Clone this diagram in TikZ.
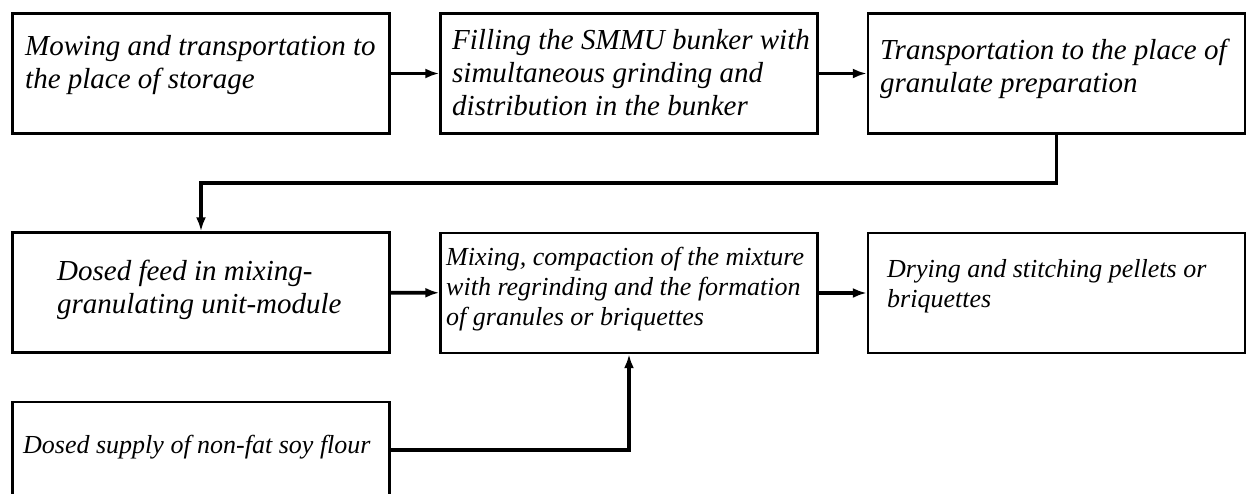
\documentclass[tikz,border=0pt]{standalone}
\usepackage{fontspec}
\setmainfont{Liberation Serif}
\usetikzlibrary{arrows.meta,calc}

\tikzset{
  stage/.style={draw, line width=2.4pt, minimum width=377pt, minimum height=120pt, inner sep=0pt},
  stagetext/.style={anchor=base west, align=left, inner sep=0pt, font=\itshape\fontsize{29}{33}\selectfont},
  smalltext/.style={stagetext, font=\itshape\fontsize{26}{30}\selectfont},
  flow/.style={->, line width=3.6pt},
}

\begin{document}
\begin{tikzpicture}[x=1pt,y=-1pt,>={Latex[length=14pt,width=10pt]}]
      \useasboundingbox (0,0) rectangle (1248,493);
      % Row 1
      \node[stage] (mow) at (201,73.5) {};
      \node[stage] (fill) at (629,73.5) {};
      \node[stage] (trans) at (1056.5,73.5) {};
      \node[stagetext] (mowtext) at (25,88) {Mowing and transportation to\\the place of storage};
      \node[stagetext] (filltext) at (452,115) {Filling the SMMU bunker with\\simultaneous grinding and\\distribution in the bunker};
      \node[stagetext] (transtext) at (880,92) {Transportation to the place of\\granulate preparation};
      % Row 2
      \node[stage] (dose) at (201,292.5) {};
      \node[stage] (mix) at (629,293) {};
      \node[stage] (dry) at (1056.5,293) {};
      \node[stagetext] (dosetext) at (57,313) {Dosed feed in mixing-\\granulating unit-module};
      \node[smalltext] (mixtext) at (446,325) {Mixing, compaction of the mixture\\with regrinding and the formation\\of granules or briquettes};
      \node[smalltext] (drytext) at (887,307) {Drying and stitching pellets or\\briquettes};
      % Row 3
      \node[stage, minimum height=96pt] (soy) at (201,450) {};
      \node[smalltext] (soytext) at (23,453) {Dosed supply of non-fat soy flour};
      % Flow
      \draw[flow] (mow) -- (fill);
      \draw[flow] (fill) -- (trans);
      \draw[flow] (trans.south) |- ($(trans.south)!.5!(dose.north)$) -| (dose.north);
      \draw[flow] (dose) -- (mix);
      \draw[flow] (mix) -- (dry);
      \draw[flow] (soy.east) -| (mix.south);
    \end{tikzpicture}
\end{document}
